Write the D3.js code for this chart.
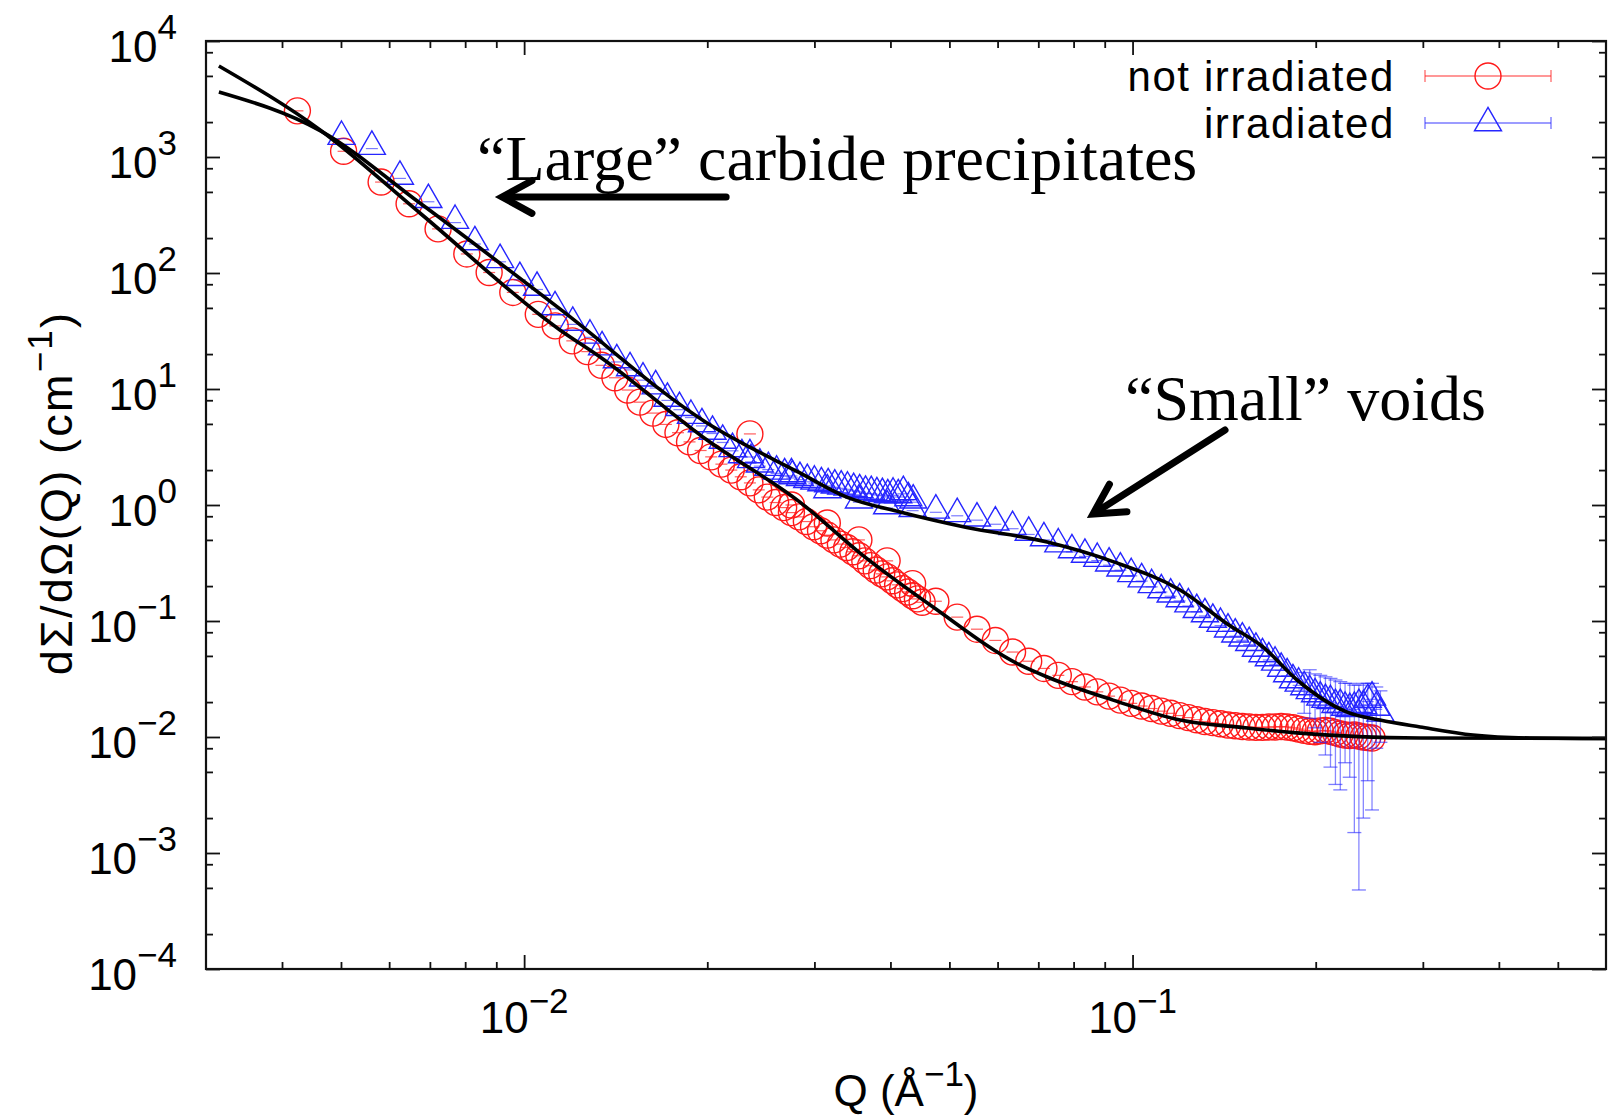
<!DOCTYPE html>
<html>
<head>
<meta charset="utf-8">
<title>SANS</title>
<script src="https://cdn.jsdelivr.net/npm/d3@7"></script>
<style>
  body { margin: 0; background: #fff; }
  text { font-family: "Liberation Sans", Arial, sans-serif; fill: #000; }
  .serif { font-family: "Liberation Serif", "Times New Roman", serif; }
</style>
</head>
<body>
<svg width="1608" height="1117"></svg>
<script>
// not irradiated, low-Q setting
var qRedLow = [0.00424, 0.00505, 0.00582, 0.00647, 0.00722, 0.00805, 0.00876, 0.00958, 0.01055, 0.01125,
  0.0120, 0.0127, 0.0134, 0.0141, 0.0148, 0.0155, 0.01628, 0.0171, 0.0179, 0.0187,
  0.0195, 0.0203, 0.0211, 0.0219, 0.0227, 0.0235, 0.0243, 0.0251, 0.0259, 0.0267,
  0.0275, 0.0283, 0.0291, 0.0299, 0.0307, 0.0315, 0.0323, 0.0331, 0.0339, 0.0347,
  0.0355, 0.0363, 0.0371, 0.0379, 0.0387, 0.0395, 0.0403, 0.0411, 0.0419, 0.0427,
  0.0435, 0.0443, 0.0451];
var iRedLow = [2500, 1120, 608, 395, 240, 146, 101, 68, 44, 35,
  26, 21, 16, 12.5, 9.8, 7.7, 6.2, 4.95, 4.2, 3.5,
  2.95, 2.6, 2.25, 2.0, 1.75, 1.55, 1.35, 1.17, 1.05, 0.95,
  0.86, 0.79, 0.72, 0.65, 0.60, 0.55, 0.50, 0.46, 0.43, 0.395,
  0.365, 0.33, 0.30, 0.275, 0.255, 0.24, 0.222, 0.205, 0.19, 0.178,
  0.165, 0.155, 0.145];

// not irradiated, high-Q setting
var qRedHigh = [0.0235, 0.0275, 0.0315, 0.0355, 0.0395, 0.0435, 0.0475, 0.0515, 0.0555, 0.0595,
  0.0635, 0.0675, 0.0715, 0.0755, 0.0795, 0.0835, 0.0875, 0.0915, 0.0955, 0.0995,
  0.1035, 0.1075, 0.1115, 0.1155, 0.1195, 0.1235, 0.1275, 0.1315, 0.1355, 0.1395,
  0.1435, 0.1475, 0.1515, 0.1555, 0.1595, 0.1635, 0.1675, 0.1715, 0.1755, 0.1795,
  0.1835, 0.1875, 0.1915, 0.1955, 0.1995, 0.2035, 0.2075, 0.2115, 0.2155, 0.2195,
  0.2235, 0.2275, 0.2315, 0.2355, 0.2395, 0.2435, 0.2475];
var iRedHigh = [4.1, 1.0, 0.70, 0.50, 0.33, 0.21, 0.148, 0.108, 0.085, 0.068,
  0.054, 0.045, 0.039, 0.034, 0.030, 0.027, 0.0245, 0.0225, 0.0208, 0.0195,
  0.0185, 0.0176, 0.0167, 0.0160, 0.0153, 0.0147, 0.0141, 0.0136, 0.0133, 0.0130,
  0.0127, 0.0125, 0.0123, 0.0122, 0.0121, 0.0121, 0.0122, 0.0122, 0.0123, 0.0122,
  0.0120, 0.0117, 0.0114, 0.0112, 0.0111, 0.0113, 0.0114, 0.0112, 0.0109, 0.0106,
  0.0104, 0.0103, 0.0104, 0.0102, 0.0100, 0.0099, 0.0098];

// irradiated, low-Q setting
var qBlueLow = [0.00501, 0.00562, 0.00625, 0.00696, 0.0077, 0.0083, 0.00913, 0.00984, 0.0105, 0.01124,
  0.01202, 0.01283, 0.01343, 0.0142, 0.01493, 0.01568, 0.01645, 0.0172, 0.0180, 0.0188,
  0.0196, 0.0204, 0.0212, 0.0220, 0.0228, 0.0236, 0.0244, 0.0252, 0.0260, 0.0268,
  0.0276, 0.0284, 0.0292, 0.0300, 0.0308, 0.0316, 0.0324, 0.0332, 0.0340, 0.0348,
  0.0356, 0.0364, 0.0372, 0.0380, 0.0388, 0.0396, 0.0404, 0.0412, 0.0420, 0.0428,
  0.0436];
var iBlueLow = [1500, 1230, 680, 428, 283, 185, 130, 91, 75, 51,
  37.5, 29, 23, 17.8, 15.2, 12.4, 10.6, 8.3, 6.9, 5.9,
  5.0, 4.3, 3.6, 3.05, 2.7, 2.45, 2.25, 2.1, 1.95, 1.85,
  1.78, 1.72, 1.65, 1.60, 1.55, 1.52, 1.48, 1.45, 1.42, 1.38,
  1.35, 1.31, 1.30, 1.27, 1.25, 1.22, 1.26, 1.22, 1.30, 1.15,
  1.10];

// irradiated, high-Q setting
var qBlueHigh = [0.0235, 0.0275, 0.0315, 0.0355, 0.0395, 0.0435, 0.0475, 0.0515, 0.0555, 0.0595,
  0.0635, 0.0675, 0.0715, 0.0755, 0.0795, 0.0835, 0.0875, 0.0915, 0.0955, 0.0995,
  0.1035, 0.1075, 0.1115, 0.1155, 0.1195, 0.1235, 0.1275, 0.1315, 0.1355, 0.1395,
  0.1435, 0.1475, 0.1515, 0.1555, 0.1595, 0.1635, 0.1675, 0.1715, 0.1755, 0.1795,
  0.1835, 0.1875, 0.1915, 0.1955, 0.1995, 0.2035, 0.2075, 0.2115, 0.2155, 0.2195,
  0.2235, 0.2275, 0.2315, 0.2355, 0.2395, 0.2435, 0.2475, 0.2515, 0.2555];
var iBlueHigh = [2.7, 1.85, 1.35, 1.10, 0.98, 0.93, 0.90, 0.84, 0.77, 0.71,
  0.65, 0.58, 0.52, 0.46, 0.41, 0.375, 0.345, 0.315, 0.285, 0.255,
  0.23, 0.205, 0.185, 0.17, 0.155, 0.14, 0.125, 0.115, 0.103, 0.095,
  0.085, 0.077, 0.071, 0.065, 0.058, 0.052, 0.048, 0.044, 0.039, 0.035,
  0.031, 0.029, 0.027, 0.025, 0.0235, 0.022, 0.021, 0.0205, 0.019, 0.019,
  0.018, 0.0175, 0.018, 0.019, 0.0185, 0.021, 0.022, 0.018, 0.016];

// irradiated, the large error bars at the end of the range
var qBlueErr  = [0.1915, 0.1955, 0.1995, 0.2035, 0.2075, 0.2115, 0.2155, 0.2195, 0.2235, 0.2275, 0.2315, 0.2355, 0.2395, 0.2435, 0.2475, 0.2515, 0.2555];
var loBlueErr = [0.016, 0.0145, 0.012, 0.009, 0.007, 0.0055, 0.0039, 0.0035, 0.006, 0.0045, 0.0015, 0.00048, 0.002, 0.0042, 0.00235, 0.008, 0.009];
var hiBlueErr = [0.036, 0.038, 0.035, 0.034, 0.033, 0.032, 0.031, 0.030, 0.029, 0.029, 0.028, 0.028, 0.029, 0.029, 0.029, 0.027, 0.025];

// fitted curves
var qFitRed = [0.00315, 0.00462, 0.00674, 0.01145, 0.01333, 0.01998, 0.0284, 0.03565, 0.047, 0.0653, 0.0724, 0.0929, 0.1197, 0.1542, 0.1884, 0.2969, 0.6];
var iFitRed = [6085, 1710, 329, 32.3, 18.9, 3.63, 1.06, 0.385, 0.132, 0.0418, 0.0329, 0.0208, 0.0140, 0.01197, 0.0108, 0.0098, 0.0097];
var qFitBlue = [0.00315, 0.00462, 0.00674, 0.01145, 0.01998, 0.0284, 0.0339, 0.0415, 0.0534, 0.0724, 0.0929, 0.1197, 0.1446, 0.1638, 0.1864, 0.2252, 0.2551, 0.2969, 0.3627, 0.45, 0.6];
var iFitBlue = [3635, 1690, 401, 49, 5.1, 1.89, 1.17, 0.87, 0.64, 0.48, 0.325, 0.185, 0.091, 0.0597, 0.031, 0.0164, 0.0140, 0.0122, 0.0104, 0.0098, 0.0097];

// axes
var xMajor = [0.01, 0.1];
var xMajorExp = ["−2", "−1"];
var xMinor = [0.004, 0.005, 0.006, 0.007, 0.008, 0.009, 0.02, 0.03, 0.04, 0.05, 0.06, 0.07, 0.08, 0.09, 0.2, 0.3, 0.4, 0.5];
var yMajorExp = [4, 3, 2, 1, 0, -1, -2, -3, -4];
var yMinorMult = [2, 5, 8];

var seriesNames = ["not irradiated", "irradiated"];

var svg = d3.select("svg");
var L = 206, R = 1606, T = 41, B = 969;

var x = d3.scaleLog().domain([0.003, 0.6]).range([L, R]);
var y = d3.scaleLog().domain([1e-4, 1e4]).range([B, T]);

svg.append("defs").append("clipPath").attr("id", "plotArea")
  .append("rect").attr("x", L).attr("y", T).attr("width", R - L).attr("height", B - T);

function zipPts(qs, is) {
  return qs.map(function(q, k) { return {q: q, i: is[k]}; });
}
var red = zipPts(qRedLow, iRedLow).concat(zipPts(qRedHigh, iRedHigh));
var blue = zipPts(qBlueLow, iBlueLow).concat(zipPts(qBlueHigh, iBlueHigh));
var blueErr = qBlueErr.map(function(q, k) { return {q: q, lo: loBlueErr[k], hi: hiBlueErr[k]}; });

var plot = svg.append("g").attr("clip-path", "url(#plotArea)");

var RED = "#ff1a1a", BLUE = "#2626ff";
var circle = d3.symbol().type(d3.symbolCircle).size(Math.PI * 13 * 13);
var tri = d3.symbol().type(d3.symbolTriangle).size(316);

// red circles
var gr = plot.append("g");
gr.selectAll("path.m").data(red).enter().append("path")
  .attr("class", "m")
  .attr("d", circle)
  .attr("transform", function(d) { return "translate(" + x(d.q) + "," + y(d.i) + ")"; })
  .attr("fill", "none").attr("stroke", RED).attr("stroke-width", 1.4);
// tiny error bar caps
gr.selectAll("line.c").data(red).enter().append("line")
  .attr("x1", function(d) { return x(d.q) - 6; })
  .attr("x2", function(d) { return x(d.q) + 6; })
  .attr("y1", function(d) { return y(d.i); })
  .attr("y2", function(d) { return y(d.i); })
  .attr("stroke", RED).attr("stroke-width", 1.2).attr("opacity", 0.7);

// blue triangles
var gb = plot.append("g");
gb.selectAll("line.e").data(blueErr).enter().append("line")
  .attr("x1", function(d) { return x(d.q); })
  .attr("x2", function(d) { return x(d.q); })
  .attr("y1", function(d) { return y(d.lo); })
  .attr("y2", function(d) { return y(d.hi); })
  .attr("stroke", BLUE).attr("stroke-width", 1.3).attr("opacity", 0.55);
["lo", "hi"].forEach(function(k) {
  gb.selectAll("line.cap" + k).data(blueErr).enter().append("line")
    .attr("x1", function(d) { return x(d.q) - 7; })
    .attr("x2", function(d) { return x(d.q) + 7; })
    .attr("y1", function(d) { return y(d[k]); })
    .attr("y2", function(d) { return y(d[k]); })
    .attr("stroke", BLUE).attr("stroke-width", 1.3).attr("opacity", 0.6);
});
gb.selectAll("path.m").data(blue).enter().append("path")
  .attr("class", "m")
  .attr("d", tri)
  .attr("transform", function(d) { return "translate(" + x(d.q) + "," + y(d.i) + ")"; })
  .attr("fill", "none").attr("stroke", BLUE).attr("stroke-width", 1.4);
gb.selectAll("line.c").data(blue).enter().append("line")
  .attr("x1", function(d) { return x(d.q) - 6; })
  .attr("x2", function(d) { return x(d.q) + 6; })
  .attr("y1", function(d) { return y(d.i) + 2; })
  .attr("y2", function(d) { return y(d.i) + 2; })
  .attr("stroke", BLUE).attr("stroke-width", 1.2).attr("opacity", 0.6);

// fits
var fitLine = d3.line()
  .x(function(d) { return x(d.q); })
  .y(function(d) { return y(d.i); })
  .curve(d3.curveMonotoneX);
[zipPts(qFitRed, iFitRed), zipPts(qFitBlue, iFitBlue)].forEach(function(f) {
  plot.append("path").datum(f).attr("d", fitLine)
    .attr("fill", "none").attr("stroke", "#000").attr("stroke-width", 3.6);
});

// ticks on all four sides, pointing inward
function cleanAxis(sel) {
  sel.select(".domain").remove();
  sel.selectAll("text").remove();
  sel.selectAll("line").attr("stroke", "#111").attr("stroke-width", 1.8);
}
var yMajor = yMajorExp.map(function(e) { return Math.pow(10, e); });
var yMinor = [];
yMajorExp.forEach(function(e) {
  if (e < 4) yMinorMult.forEach(function(m) { yMinor.push(m * Math.pow(10, e)); });
});
[[xMajor, 14], [xMinor, 7]].forEach(function(t) {
  svg.append("g").attr("transform", "translate(0," + B + ")")
    .call(d3.axisBottom(x).tickValues(t[0]).tickSize(-t[1]).tickFormat("")).call(cleanAxis);
  svg.append("g").attr("transform", "translate(0," + T + ")")
    .call(d3.axisTop(x).tickValues(t[0]).tickSize(-t[1]).tickFormat("")).call(cleanAxis);
});
[[yMajor, 14], [yMinor, 7]].forEach(function(t) {
  svg.append("g").attr("transform", "translate(" + L + ",0)")
    .call(d3.axisLeft(y).tickValues(t[0]).tickSize(-t[1]).tickFormat("")).call(cleanAxis);
  svg.append("g").attr("transform", "translate(" + R + ",0)")
    .call(d3.axisRight(y).tickValues(t[0]).tickSize(-t[1]).tickFormat("")).call(cleanAxis);
});

svg.append("rect").attr("x", L).attr("y", T).attr("width", R - L).attr("height", B - T)
  .attr("fill", "none").attr("stroke", "#111").attr("stroke-width", 2.2);

// tick labels, 10 with superscript exponent
svg.selectAll("text.yl").data(yMajorExp).enter().append("text")
  .attr("class", "yl")
  .attr("x", 177).attr("y", function(e) { return y(Math.pow(10, e)) + 21; })
  .attr("text-anchor", "end").attr("font-size", 44)
  .each(function(e) {
    var t = d3.select(this);
    t.append("tspan").text("10");
    t.append("tspan").attr("dy", -23).attr("font-size", 35).text(e < 0 ? "−" + (-e) : "" + e);
  });
svg.selectAll("text.xl").data(xMajor).enter().append("text")
  .attr("class", "xl")
  .attr("x", function(v) { return x(v); }).attr("y", 1033)
  .attr("text-anchor", "middle").attr("font-size", 44)
  .each(function(v, k) {
    var t = d3.select(this);
    t.append("tspan").text("10");
    t.append("tspan").attr("dy", -20).attr("font-size", 35).text(xMajorExp[k]);
  });

// axis titles
var xt = svg.append("text").attr("x", (L + R) / 2).attr("y", 1106)
  .attr("text-anchor", "middle").attr("font-size", 44);
xt.append("tspan").text("Q (Å");
xt.append("tspan").attr("dy", -20).attr("font-size", 35).text("−1");
xt.append("tspan").attr("dy", 20).text(")");

var yt = svg.append("text").attr("transform", "translate(72," + ((T + B) / 2 - 12) + ") rotate(-90)")
  .attr("text-anchor", "middle").attr("font-size", 45).attr("letter-spacing", 2.2);
yt.append("tspan").text("dΣ/dΩ(Q) (cm");
yt.append("tspan").attr("dy", -20).attr("font-size", 35).text("−1");
yt.append("tspan").attr("dy", 20).text(")");

// legend
var legY = [76, 123];
var legColor = [RED, BLUE];
var legSym = [circle, tri];
seriesNames.forEach(function(name, k) {
  var g = svg.append("g");
  g.append("text").attr("x", 1395).attr("y", legY[k] + 15).attr("text-anchor", "end")
    .attr("font-size", 42).attr("letter-spacing", 1.6).text(name);
  g.append("line").attr("x1", 1425).attr("x2", 1551).attr("y1", legY[k]).attr("y2", legY[k])
    .attr("stroke", legColor[k]).attr("stroke-width", 1.4).attr("opacity", 0.6);
  [1425, 1551].forEach(function(cx) {
    g.append("line").attr("x1", cx).attr("x2", cx).attr("y1", legY[k] - 6).attr("y2", legY[k] + 6)
      .attr("stroke", legColor[k]).attr("stroke-width", 1.4).attr("opacity", 0.6);
  });
  g.append("path").attr("d", legSym[k]).attr("transform", "translate(1488," + legY[k] + ")")
    .attr("fill", "none").attr("stroke", legColor[k]).attr("stroke-width", 1.4);
});

// annotations, placed in data coordinates
var noteText = ["“Large” carbide precipitates", "“Small” voids"];
var noteAt = [[0.00837, 634], [0.0972, 5.41]];
var arrowFrom = [[0.02148, 452], [0.1419, 4.43]];
var arrowTo = [[0.0092, 452], [0.0861, 0.836]];

noteText.forEach(function(s, k) {
  svg.append("text").attr("class", "serif")
    .attr("x", x(noteAt[k][0])).attr("y", y(noteAt[k][1]))
    .attr("font-size", 64).text(s);
  var x0 = x(arrowFrom[k][0]), y0 = y(arrowFrom[k][1]);
  var x1 = x(arrowTo[k][0]), y1 = y(arrowTo[k][1]);
  var a = Math.atan2(y0 - y1, x0 - x1), len = 34, half = 0.5;
  svg.append("line").attr("x1", x0).attr("y1", y0).attr("x2", x1 + 4 * Math.cos(a)).attr("y2", y1 + 4 * Math.sin(a))
    .attr("stroke", "#000").attr("stroke-width", 7).attr("stroke-linecap", "round");
  svg.append("path")
    .attr("d", "M" + (x1 + len * Math.cos(a + half)) + "," + (y1 + len * Math.sin(a + half)) +
      "L" + x1 + "," + y1 +
      "L" + (x1 + len * Math.cos(a - half)) + "," + (y1 + len * Math.sin(a - half)))
    .attr("fill", "none").attr("stroke", "#000").attr("stroke-width", 7)
    .attr("stroke-linecap", "round").attr("stroke-linejoin", "miter");
});
</script>
</body>
</html>
